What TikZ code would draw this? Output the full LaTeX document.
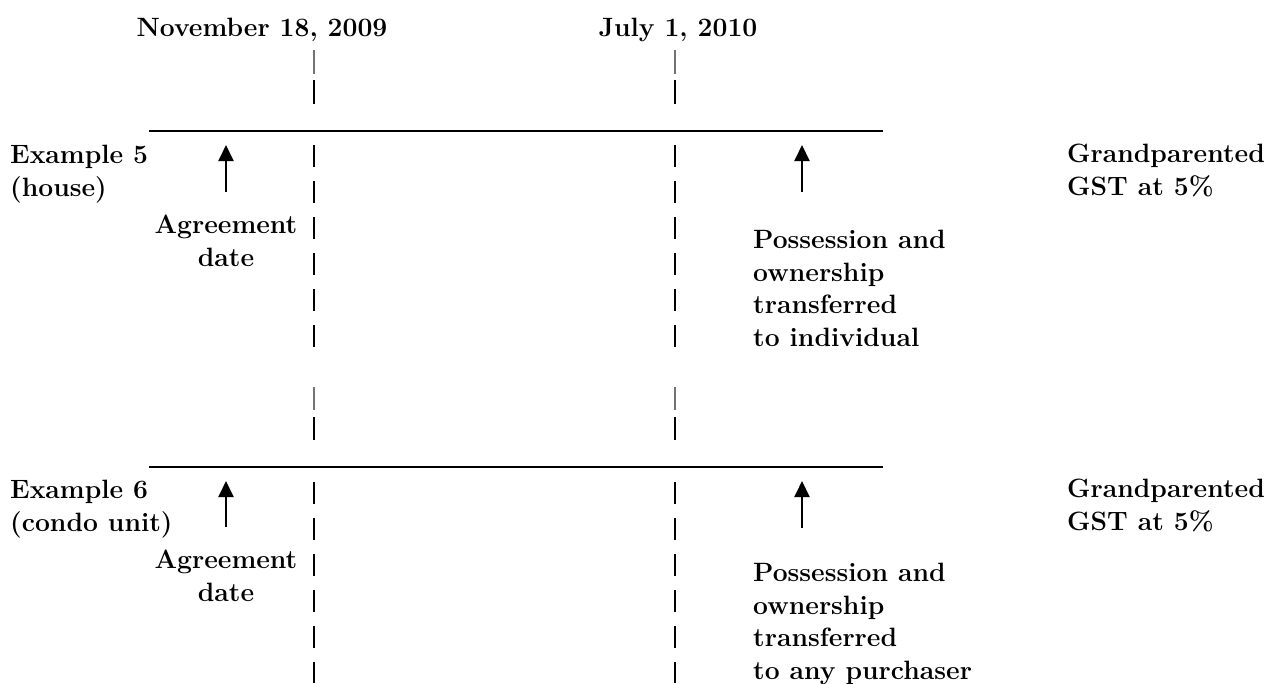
\documentclass[tikz,border=0pt]{standalone}
\usepackage{tikz}
\usetikzlibrary{arrows.meta, positioning}

\begin{document}
\begin{tikzpicture}[x=1pt, y=-1pt,
    lbl/.style={font=\bfseries\fontsize{26.5}{32.5}\selectfont, inner sep=0pt, align=left},
    datebar/.style={line width=2.2pt, dash pattern=on 22pt off 14pt},
    thinbar/.style={line width=1.2pt, black!55},
    timeline/.style={line width=1.4pt},
    uparrow/.style={-{Triangle[length=16pt,width=15pt]}, line width=2pt}
]
    \useasboundingbox (0,0) rectangle (1277,683);

    % Dates
    \node[lbl, anchor=north] (nov) at (262,18) {November 18, 2009};
    \node[lbl, anchor=north] (jul) at (678,18) {July 1, 2010};

    % Bars under the dates
    \draw[thinbar] (314,50) -- (314,74);
    \draw[line width=2.2pt] (314,80) -- (314,104);
    \draw[thinbar] (675,50) -- (675,74);
    \draw[line width=2.2pt] (675,80) -- (675,104);

    % Example 5
    \coordinate (tl5w) at (149,131);
    \coordinate (tl5e) at (883,131);
    \draw[timeline] (tl5w) -- (tl5e);
    \node[lbl, anchor=north west] (ex5) at (10,145) {Example 5\\(house)};
    \node[lbl, anchor=north, align=center] (agree5) at (226,215) {Agreement\\date};
    \node[lbl, anchor=north west] (pos5) at (753,230) {Possession and\\ownership\\transferred\\to individual};
    \node[lbl, anchor=north west] (gst5) at (1067,144) {Grandparented\\GST at 5\%};
    \coordinate (own5) at (802,192);
    \draw[datebar] (314,145) -- (314,348);
    \draw[datebar] (675,145) -- (675,348);

    % Arrows
    \draw[uparrow, shorten <=23pt, shorten >=14pt] (agree5.north) -- (agree5.north |- tl5w);
    \draw[uparrow, shorten >=14pt] (own5) -- (own5 |- tl5e);

    % Bars between the examples
    \draw[thinbar] (314,387) -- (314,410);
    \draw[line width=2.2pt] (314,417) -- (314,440);
    \draw[thinbar] (675,387) -- (675,410);
    \draw[line width=2.2pt] (675,417) -- (675,440);

    % Example 6
    \coordinate (tl6w) at (149,467);
    \coordinate (tl6e) at (883,467);
    \draw[timeline] (tl6w) -- (tl6e);
    \node[lbl, anchor=north west] (ex6) at (10,480) {Example 6\\(condo unit)};
    \node[lbl, anchor=north, align=center] (agree6) at (226,550) {Agreement\\date};
    \node[lbl, anchor=north west] (pos6) at (753,563) {Possession and\\ownership\\transferred\\to any purchaser};
    \node[lbl, anchor=north west] (gst6) at (1067,479) {Grandparented\\GST at 5\%};
    \coordinate (own6) at (802,528);
    \draw[datebar] (314,482) -- (314,683);
    \draw[datebar] (675,482) -- (675,683);

    % Arrows
    \draw[uparrow, shorten <=23pt, shorten >=14pt] (agree6.north) -- (agree6.north |- tl6w);
    \draw[uparrow, shorten >=14pt] (own6) -- (own6 |- tl6e);
\end{tikzpicture}
\end{document}
